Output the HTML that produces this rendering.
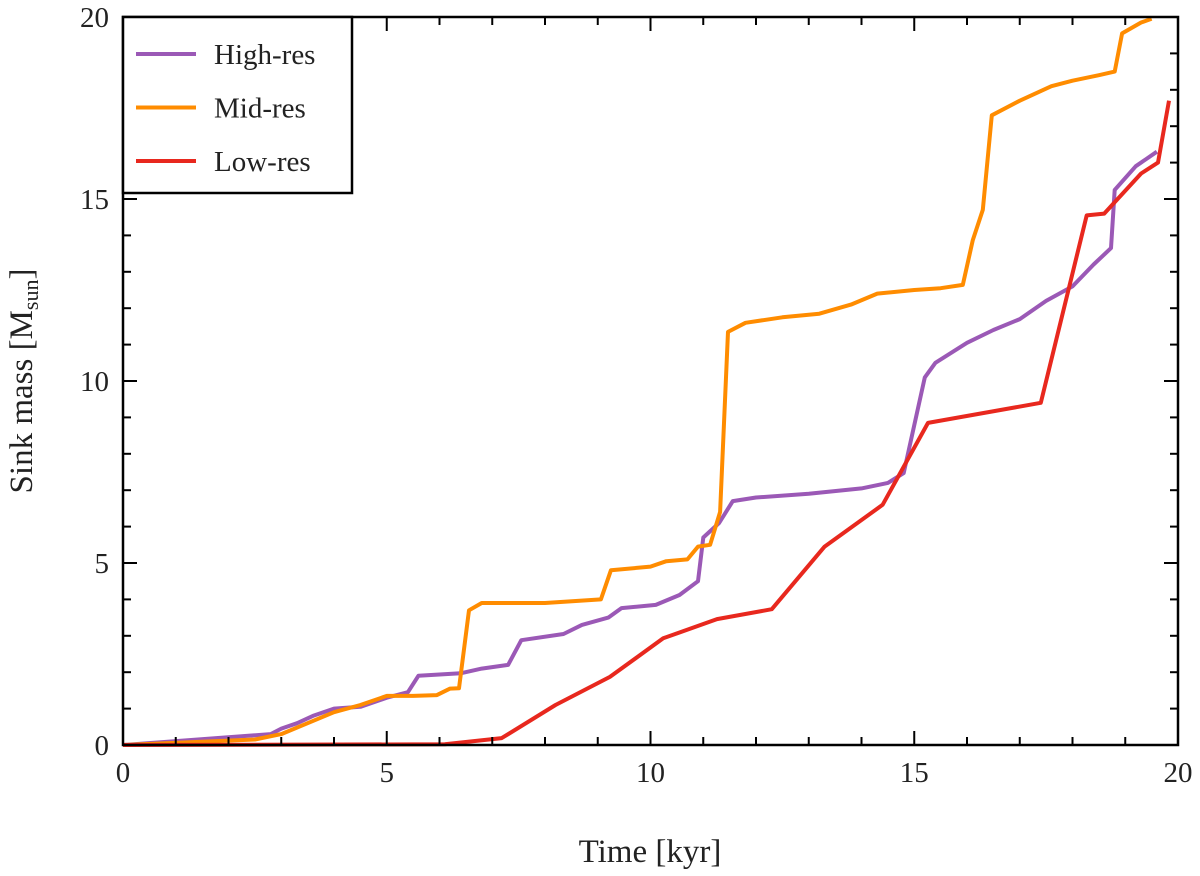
<!DOCTYPE html>
<html><head><meta charset="utf-8"><style>
body{margin:0;background:#fff}
svg{display:block;font-family:"Liberation Serif",serif}
</style></head><body>
<svg width="1200" height="876" viewBox="0 0 1200 876">
<g id="plot"></g>
</svg>
<script>
const hiT=[0,2.8,3.0,3.3,3.6,4.0,4.5,5.0,5.4,5.6,6.4,6.8,7.3,7.55,8.35,8.7,9.2,9.45,10.1,10.55,10.9,11.0,11.3,11.56,12.0,13.0,14.0,14.5,14.8,15.2,15.4,16.0,16.5,17.0,17.5,18.0,18.4,18.73,18.8,19.2,19.6];
const hiM=[0,0.3,0.45,0.6,0.8,1.0,1.05,1.3,1.45,1.9,1.97,2.1,2.2,2.88,3.05,3.3,3.5,3.76,3.85,4.12,4.5,5.7,6.1,6.7,6.8,6.9,7.05,7.2,7.47,10.1,10.5,11.05,11.4,11.7,12.2,12.6,13.2,13.65,15.25,15.9,16.3];
const midT=[0,2.5,3.0,3.5,4.0,4.5,5.0,5.5,5.95,6.2,6.37,6.56,6.8,8.0,9.06,9.25,10.0,10.3,10.7,10.9,11.13,11.32,11.47,11.8,12.5,13.2,13.8,14.3,15.0,15.5,15.92,16.11,16.3,16.47,17.0,17.6,18.0,18.5,18.8,18.94,19.3,19.5];
const midM=[0,0.15,0.3,0.6,0.9,1.1,1.35,1.35,1.37,1.55,1.56,3.7,3.9,3.9,4.0,4.8,4.9,5.05,5.1,5.45,5.5,6.4,11.35,11.6,11.75,11.85,12.1,12.4,12.5,12.55,12.64,13.87,14.7,17.3,17.7,18.1,18.25,18.4,18.5,19.55,19.85,19.95];
const lowT=[0,6.1,7.18,8.2,9.23,10.24,11.26,12.3,13.3,14.4,15.26,17.4,18.27,18.6,19.3,19.62,19.83];
const lowM=[0,0.02,0.19,1.1,1.87,2.93,3.46,3.73,5.45,6.6,8.85,9.4,14.55,14.6,15.7,16.0,17.7];
const xTicks=[0,5,10,15,20];
const yTicks=[0,5,10,15,20];
const seriesNames=["High-res","Mid-res","Low-res"];
const colors=["#9b59b6","#ff8c00","#e8281e"];

const X0=123,X1=1178,Y0=745,Y1=17;
const sx=t=>X0+(t/20)*(X1-X0);
const sy=m=>Y0-(m/20)*(Y0-Y1);
const NS="http://www.w3.org/2000/svg";
const g=document.getElementById('plot');
function mk(tag,a){const e=document.createElementNS(NS,tag);for(const k in a)e.setAttribute(k,a[k]);g.appendChild(e);return e;}

const data=[[hiT,hiM],[midT,midM],[lowT,lowM]];
const lineNames=['high-res-line','mid-res-line','low-res-line'];
data.forEach((d,i)=>{
  const pts=d[0].map((t,j)=>sx(t).toFixed(1)+','+sy(d[1][j]).toFixed(1)).join(' ');
  const p=mk('polyline',{points:pts,fill:'none',stroke:colors[i],'stroke-width':4,'stroke-linejoin':'round'});
  
  
});

// frame
const fr=mk('rect',{x:X0,y:Y1,width:X1-X0,height:Y0-Y1,fill:'none',stroke:'#000','stroke-width':2.5});



// ticks
for(let v=0;v<=20;v++){
  const major=v%5===0, L=major?14:8;
  const x=sx(v), y=sy(v);
  [[x,Y0,x,Y0-L],[x,Y1,x,Y1+L],[X0,y,X0+L,y],[X1,y,X1-L,y]].forEach(c=>{
    const t=mk('line',{x1:c[0],y1:c[1],x2:c[2],y2:c[3],stroke:'#000','stroke-width':2});
    
    
  });
}
xTicks.forEach(v=>{
  const t=mk('text',{x:sx(v),y:Y0+37,'font-size':29,'text-anchor':'middle',fill:'#222'});
  t.textContent=v;
  
  
});
yTicks.forEach(v=>{
  const t=mk('text',{x:X0-14,y:sy(v)+10,'font-size':29,'text-anchor':'end',fill:'#222'});
  t.textContent=v;
  
  
});
const xt=mk('text',{x:650,y:862,'font-size':33,'text-anchor':'middle',fill:'#222'});
xt.textContent='Time [kyr]';


const yt=mk('text',{x:0,y:0,'font-size':33,'text-anchor':'middle',fill:'#222',transform:'translate(32,381) rotate(-90)'});
yt.innerHTML='Sink mass [M<tspan font-size="22" dy="6">sun</tspan><tspan dy="-6">]</tspan>';



// legend
const lg=mk('rect',{x:X0,y:Y1,width:229,height:176,fill:'#fff',stroke:'#000','stroke-width':2.5});


seriesNames.forEach((n,i)=>{
  const y=54+i*53.5;
  const l=mk('line',{x1:136,y1:y,x2:196,y2:y,stroke:colors[i],'stroke-width':4});
  
  
  const t=mk('text',{x:214,y:y+10,'font-size':29,fill:'#222'});
  t.textContent=n;
  
  
});
</script>
</body></html>
